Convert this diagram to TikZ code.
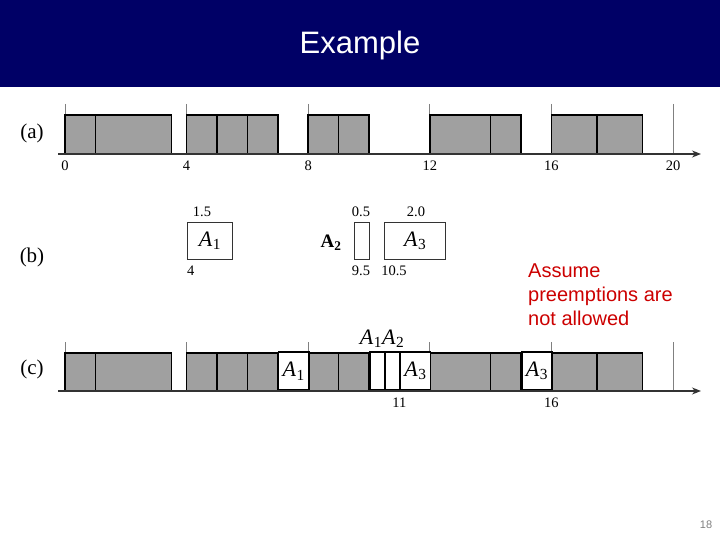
\documentclass[tikz,border=0pt]{standalone}
\usepackage{fontspec}
\setmainfont{Liberation Serif}
\newfontfamily\slidefont{Liberation Sans}
\usetikzlibrary{arrows.meta}
\definecolor{navy}{RGB}{0,0,102}
\definecolor{jobgray}{RGB}{160,160,160}
\definecolor{notered}{RGB}{204,0,0}
% time t -> x position (pt)
\newcommand{\tm}[1]{65+30.4*(#1)}
% task name, Times-like italic with subscript
\newcommand{\tsk}[1]{\textit{A}\kern0.5pt\textsubscript{#1}}

\begin{document}
\begin{tikzpicture}[x=1pt,y=-1pt,
  job/.style={draw=black, line width=1.6pt, fill=jobgray},
  free/.style={draw=black, line width=1.6pt, fill=white, inner sep=0pt, minimum height=38pt, anchor=south west},
  task/.style={draw=black!80, line width=1.2pt, fill=white, inner sep=0pt, minimum height=37pt, anchor=north west},
  tickline/.style={draw=gray, line width=0.8pt},
  axis/.style={draw=black!80, line width=1.2pt, -{Stealth[length=9pt,width=7pt]}},
  num/.style={font=\fontsize{14.5}{16}\selectfont, inner sep=0pt},
  rowlab/.style={font=\fontsize{21}{24}\selectfont, inner sep=0pt},
  lab/.style={font=\fontsize{22}{24}\selectfont, inner sep=0pt}
]
\useasboundingbox (0,0) rectangle (720,540);

% header
\fill[navy] (0,0) rectangle (720,87);
\node[text=white, font=\slidefont\fontsize{31}{36}\selectfont] (title) at (360,45) {Example};

% (a)
\node[rowlab] (la) at (32,133) {(a)};
\foreach \t in {0,4,...,20} {
  \draw[tickline] ({\tm{\t}},104) -- ({\tm{\t}},154);
  \node[num] (a\t) at ({\tm{\t}},166) {\t};
}
\foreach \s/\e in {0/1,1/3.5,4/5,5/6,6/7,8/9,9/10,12/14,14/15,16/17.5,17.5/19}
  \draw[job] ({\tm{\s}},115) rectangle ({\tm{\e}},154);
\coordinate (a-from) at (58,154);
\coordinate (a-to) at (701,154);
\draw[axis] (a-from) -- (a-to);

% (b)
\node[rowlab] (lb) at (32,257) {(b)};
\node[task, minimum width=45.6pt, font=\fontsize{22}{24}\selectfont] (b1) at ({\tm{4}},222) {\tsk{1}};
\node[task, minimum width=15.2pt] (b2) at ({\tm{9.5}},222) {};
\node[task, minimum width=60.8pt, font=\fontsize{22}{24}\selectfont] (b3) at ({\tm{10.5}},222) {\tsk{3}};
\node[num] (b1-len) at (202,212) {1.5};
\node[num, anchor=west] (b1-at) at (187,271) {4};
\node[num] (b2-len) at (361,212) {0.5};
\node[num] (b2-at) at (361,271) {9.5};
\node[num] (b3-len) at (416,212) {2.0};
\node[num] (b3-at) at (394,271) {10.5};
\node[inner sep=0pt, font=\bfseries\fontsize{19}{22}\selectfont] (b2-name) at (331,243) {A\textsubscript{2}};

% note
\node[text=notered, font=\slidefont\fontsize{20}{24}\selectfont, align=left, anchor=north west, inner sep=0pt] (note) at (528,264) {Assume\\preemptions are\\not allowed};

% (c)
\node[rowlab] (lc) at (32,369) {(c)};
\foreach \t in {0,4,...,20}
  \draw[tickline] ({\tm{\t}},342) -- ({\tm{\t}},391);
\foreach \s/\e in {0/1,1/3.5,4/5,5/6,6/7,8/9,9/10,12/14,14/15,16/17.5,17.5/19}
  \draw[job] ({\tm{\s}},353) rectangle ({\tm{\e}},391);
\node[free, minimum width=30.4pt] (c1) at ({\tm{7}},391) {};
\node[free, minimum width=15.2pt] (c2) at ({\tm{10}},391) {};
\node[free, minimum width=15.2pt] (c3) at ({\tm{10.5}},391) {};
\node[free, minimum width=30.4pt] (c4) at ({\tm{11}},391) {};
\node[free, minimum width=30.4pt] (c5) at ({\tm{15}},391) {};
\node[lab] at (c1.center) {\tsk{1}};
\node[lab] at (c4.center) {\tsk{3}};
\node[lab] at (c5.center) {\tsk{3}};
\node[lab] (c-names) at (382,339) {\tsk{1}\tsk{2}};
\coordinate (c-from) at (58,391);
\coordinate (c-to) at (701,391);
\draw[axis] (c-from) -- (c-to);
\node[num] (c11) at ({\tm{11}},403) {11};
\node[num] (c16) at ({\tm{16}},403) {16};

% page number
\node[text=gray, font=\slidefont\fontsize{11}{13}\selectfont] (page) at (706,525) {18};
\end{tikzpicture}
\end{document}
